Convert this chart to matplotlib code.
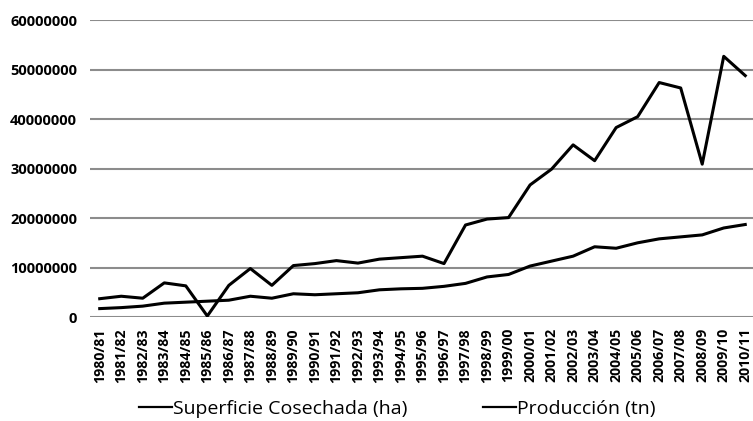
import numpy as np
import matplotlib.pyplot as plt

# Data

campanias = ["1980/81", "1981/82", "1982/83", "1983/84", "1984/85", "1985/86",
             "1986/87", "1987/88", "1988/89", "1989/90", "1990/91", "1991/92",
             "1992/93", "1993/94", "1994/95", "1995/96", "1996/97", "1997/98",
             "1998/99", "1999/00", "2000/01", "2001/02", "2002/03", "2003/04",
             "2004/05", "2005/06", "2006/07", "2007/08", "2008/09", "2009/10",
             "2010/11"]

superficie = [1.7e6, 1.9e6, 2.2e6, 2.8e6, 3.0e6, 3.2e6, 3.4e6, 4.2e6, 3.8e6,
              4.7e6, 4.5e6, 4.7e6, 4.9e6, 5.5e6, 5.7e6, 5.8e6, 6.2e6, 6.8e6,
              8.1e6, 8.6e6, 10.3e6, 11.3e6, 12.3e6, 14.2e6, 13.9e6, 15.0e6,
              15.8e6, 16.2e6, 16.6e6, 18.0e6, 18.7e6]

produccion = [3.7e6, 4.2e6, 3.8e6, 6.9e6, 6.3e6, 0.2e6, 6.4e6, 9.8e6, 6.4e6,
              10.4e6, 10.8e6, 11.4e6, 10.9e6, 11.7e6, 12.0e6, 12.3e6, 10.8e6,
              18.6e6, 19.8e6, 20.1e6, 26.7e6, 29.9e6, 34.8e6, 31.6e6, 38.3e6,
              40.5e6, 47.4e6, 46.3e6, 30.9e6, 52.7e6, 48.8e6]

yticks = [0, 10000000, 20000000, 30000000, 40000000, 50000000, 60000000]

# Plot

plt.rcParams['font.family'] = ['Open Sans', 'DejaVu Sans']

fig = plt.figure(figsize=(7.53, 4.21), dpi=100)
ax = fig.add_axes([0.119, 0.247, 0.885, 0.705])

x = np.arange(len(campanias))
ax.plot(x, superficie, color="black", linewidth=2.2, label="Superficie Cosechada (ha)")
ax.plot(x, produccion, color="black", linewidth=2.2, label="Producción (tn)")

ax.set_xlim(-0.47, len(campanias) - 0.5)
ax.set_ylim(0, 60000000)
ax.set_yticks(yticks)
ax.set_yticklabels([str(v) for v in yticks], fontsize=10.5, fontweight="bold")
ax.set_xticks(x)
ax.set_xticklabels(campanias, rotation=90, fontsize=10.2, fontweight="bold")
ax.tick_params(length=0)
ax.tick_params(axis="x", pad=8)
ax.tick_params(axis="y", pad=9)

ax.grid(axis="y", color="#8c8c8c", linewidth=1.5)
ax.set_axisbelow(True)
for s in ax.spines.values():
    s.set_visible(False)

leg = fig.legend(loc="center", bbox_to_anchor=(0.528, 0.028), ncol=2, frameon=False,
                 fontsize=14, handlelength=1.7, handletextpad=0.05, columnspacing=3.9)
for ln in leg.get_lines():
    ln.set_linewidth(1.6)

fig.savefig("out.png", dpi=100)
